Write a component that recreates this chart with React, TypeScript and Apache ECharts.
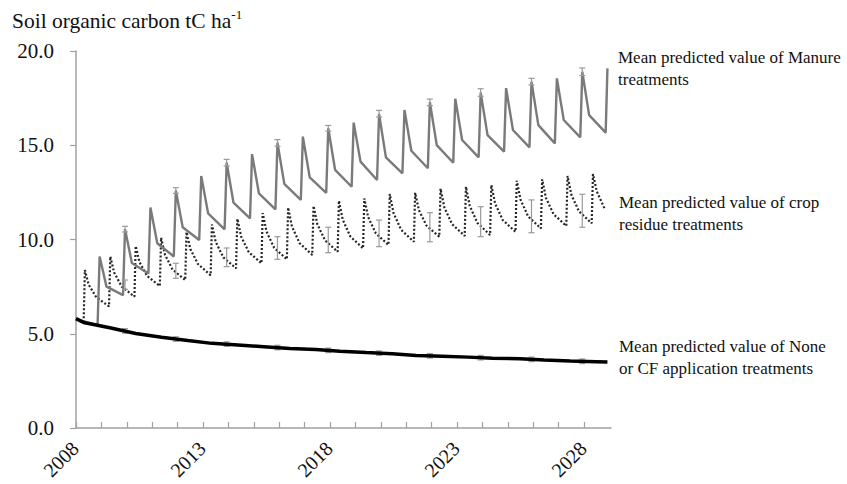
import React, { useEffect, useRef } from "react";
import * as echarts from "echarts";

// ---------- data ----------
// Manure treatments: one application per year; peak, shoulder after the fast drop, trough before next application
const manureStart = [[2008.0, 5.78], [2008.85, 5.45]];
const manurePeak = [9.1, 10.55, 11.7, 12.6, 13.37, 14.07, 14.53, 15.13, 15.46, 15.9, 16.2, 16.66, 16.87, 17.28, 17.47, 17.79, 18.03, 18.37, 18.55, 18.9];
const manureShoulder = [7.5, 8.75, 9.8, 10.65, 11.39, 11.95, 12.45, 12.95, 13.3, 13.69, 14.13, 14.36, 14.71, 15.01, 15.28, 15.54, 15.81, 16.07, 16.34, 16.6];
const manureTrough = [7.05, 8.2, 9.1, 9.97, 10.54, 11.12, 11.6, 12.1, 12.48, 12.8, 13.16, 13.51, 13.78, 14.07, 14.36, 14.66, 14.89, 15.1, 15.42, 15.67];
const manureEnd = [2028.92, 19.08];

// Crop residue treatments
const cropStart = [[2008.0, 5.78], [2008.3, 5.62]];
const cropPeak = [8.38, 9.1, 9.65, 10.1, 10.4, 10.8, 11.1, 11.4, 11.7, 11.78, 12.06, 12.18, 12.41, 12.48, 12.7, 12.8, 12.89, 13.12, 13.19, 13.37];
const cropMid1 = [7.6, 8.25, 8.8, 9.2, 9.5, 9.87, 10.16, 10.42, 10.69, 10.81, 11.05, 11.19, 11.4, 11.55, 11.7, 11.78, 11.9, 12.11, 12.2, 12.37];
const cropMid2 = [6.93, 7.5, 8.06, 8.41, 8.7, 9.05, 9.33, 9.56, 9.81, 9.96, 10.16, 10.33, 10.51, 10.73, 10.82, 10.88, 11.03, 11.22, 11.34, 11.49];
const cropTrough = [6.45, 6.97, 7.53, 7.85, 8.1, 8.47, 8.74, 8.95, 9.18, 9.35, 9.53, 9.71, 9.88, 10.15, 10.19, 10.24, 10.41, 10.59, 10.72, 10.86];
const cropTail = [[2028.35, 13.47], [2028.5, 12.55], [2028.83, 11.57]];

// None or CF application treatments
const noneLine = [
  [2008.0, 5.8], [2008.3, 5.6], [2009.33, 5.32], [2010.35, 5.01], [2011.37, 4.81], [2012.4, 4.64],
  [2013.35, 4.49], [2014.37, 4.4], [2015.39, 4.31], [2016.42, 4.22], [2017.44, 4.16], [2018.39, 4.07],
  [2019.42, 4.0], [2020.44, 3.94], [2021.39, 3.85], [2022.41, 3.81], [2023.44, 3.76], [2024.39, 3.7],
  [2025.48, 3.67], [2026.43, 3.61], [2027.46, 3.56], [2028.48, 3.52], [2028.92, 3.5],
];

// Error bars every second year
const errYears = [2009.93, 2011.93, 2013.93, 2015.93, 2017.93, 2019.93, 2021.93, 2023.93, 2025.93, 2027.93];
const cropErrLow = [7.35, 7.94, 8.56, 8.95, 9.3, 9.62, 9.88, 10.15, 10.36, 10.65];
const cropErrHigh = [7.85, 8.74, 9.55, 10.15, 10.65, 11.03, 11.42, 11.74, 12.1, 12.4];
const manureErrLow = [10.4, 12.45, 13.9, 14.95, 15.75, 16.5, 17.1, 17.6, 18.2, 18.7];
const manureErrHigh = [10.7, 12.75, 14.25, 15.3, 16.05, 16.85, 17.45, 18.0, 18.55, 19.1];
const noneErrLow = [5.03, 4.6, 4.33, 4.15, 4.0, 3.85, 3.71, 3.61, 3.52, 3.42];
const noneErrHigh = [5.27, 4.84, 4.57, 4.39, 4.24, 4.09, 3.95, 3.85, 3.76, 3.66];

const tickYears = [2008, 2009, 2010, 2011, 2012, 2013, 2014, 2015, 2016, 2017, 2018, 2019, 2020, 2021, 2022, 2023, 2024, 2025, 2026, 2027, 2028];
const labelYears = [2008, 2013, 2018, 2023, 2028];
const yTicks = [0, 5, 10, 15, 20];

const FONT = "'Liberation Serif', 'Times New Roman', serif";

export default function App() {
  const ref = useRef<HTMLDivElement>(null);
  useEffect(() => {
    if (!ref.current) return;
    const chart = echarts.init(ref.current, null, { renderer: "svg" });

    const manure: number[][] = [...manureStart];
    manurePeak.forEach((p, i) => {
      const y = 2008 + i;
      manure.push([y + 0.93, p], [y + 1.2, manureShoulder[i]], [y + 1.85, manureTrough[i]]);
    });
    manure.push(manureEnd);

    const crop: number[][] = [...cropStart];
    cropPeak.forEach((p, i) => {
      const y = 2008 + i;
      crop.push([y + 0.35, p], [y + 0.5, cropMid1[i]], [y + 0.8, cropMid2[i]], [y + 1.3, cropTrough[i]]);
    });
    crop.push(...cropTail);

    const errSeries = (low: number[], high: number[], name: string) => ({
      type: "custom",
      name,
      data: errYears.map((x, i) => [x, low[i], high[i]]),
      encode: { x: 0, y: [1, 2] },
      z: 5,
      renderItem: (params: any, api: any) => {
        const x = api.value(0);
        const lo = api.coord([x, api.value(1)]);
        const hi = api.coord([x, api.value(2)]);
        const w = 3;
        const st = { stroke: "#9a9a9a", lineWidth: 1.2 };
        return {
          type: "group",
          children: [
            { type: "line", shape: { x1: lo[0], y1: lo[1], x2: hi[0], y2: hi[1] }, style: st },
            { type: "line", shape: { x1: lo[0] - w, y1: lo[1], x2: lo[0] + w, y2: lo[1] }, style: st },
            { type: "line", shape: { x1: hi[0] - w, y1: hi[1], x2: hi[0] + w, y2: hi[1] }, style: st },
          ],
        };
      },
    });

    const textStyle = { fill: "#111", font: `17px ${FONT}`, lineHeight: 22 };

    chart.setOption({
      animation: false,
      backgroundColor: "#ffffff",
      grid: { left: 76, right: 236, top: 51, bottom: 56 },
      xAxis: {
        type: "value",
        min: 2008,
        max: 2029.06,
        interval: 1,
        axisLine: { show: true, lineStyle: { color: "#a0a0a0", width: 1.5 } },
        axisTick: { show: true, inside: true, length: 6, customValues: tickYears, lineStyle: { color: "#a0a0a0", width: 1.2 } },
        axisLabel: { show: false },
        splitLine: { show: false },
      },
      yAxis: {
        type: "value",
        min: 0,
        max: 20,
        interval: 5,
        axisLine: { show: true, lineStyle: { color: "#a0a0a0", width: 1.5 } },
        axisTick: { show: true, inside: false, length: 6, customValues: yTicks, lineStyle: { color: "#a0a0a0", width: 1.2 } },
        axisLabel: {
          margin: 22,
          fontSize: 21,
          fontFamily: FONT,
          color: "#111",
          formatter: (v: number) => v.toFixed(1),
        },
        splitLine: { show: false },
      },
      series: [
        {
          type: "line",
          name: "Crop residue",
          data: crop,
          showSymbol: false,
          z: 3,
          lineStyle: { color: "#262626", width: 2.2, type: [2, 2] },
        },
        {
          type: "line",
          name: "Manure",
          data: manure,
          showSymbol: false,
          z: 4,
          lineStyle: { color: "#7a7a7a", width: 2.4 },
        },
        errSeries(cropErrLow, cropErrHigh, "crop err"),
        errSeries(manureErrLow, manureErrHigh, "manure err"),
        {
          type: "line",
          name: "None or CF",
          data: noneLine,
          showSymbol: false,
          z: 6,
          lineStyle: { color: "#000000", width: 3.5 },
        },
        errSeries(noneErrLow, noneErrHigh, "none err"),
      ],
    });

    // rotated year labels, placed at the axis' own tick positions
    const axisY = chart.convertToPixel({ yAxisIndex: 0 }, 0) as number;
    const yearLabels = labelYears.map((yr) => ({
      type: "text",
      x: (chart.convertToPixel({ xAxisIndex: 0 }, yr) as number) - 8,
      y: axisY + 10,
      rotation: Math.PI / 4,
      style: { text: String(yr), font: `20px ${FONT}`, lineHeight: 20, fill: "#111", align: "right", verticalAlign: "top" },
    }));

    chart.setOption({
      graphic: [
        {
          type: "text",
          left: 12,
          top: 8,
          style: {
            text: "{a|Soil organic carbon tC ha}{b|-1}",
            rich: {
              a: { fontSize: 21.5, fontFamily: FONT, fill: "#111", lineHeight: 26 },
              b: { fontSize: 13, fontFamily: FONT, fill: "#111", verticalAlign: "top", lineHeight: 26, padding: [0, 0, 10, 0] },
            },
          },
        },
        { type: "text", left: 618, top: 46, style: { ...textStyle, text: "Mean predicted value of Manure\ntreatments" } },
        { type: "text", left: 619, top: 191, style: { ...textStyle, text: "Mean predicted value of crop\nresidue treatments" } },
        { type: "text", left: 619, top: 335, style: { ...textStyle, text: "Mean predicted value of None\nor CF application treatments" } },
        ...yearLabels,
      ],
    });
    return () => chart.dispose();
  }, []);
  return <div ref={ref} style={{ position: "absolute", left: 0, top: 0, width: 847, height: 484 }} />;
}
